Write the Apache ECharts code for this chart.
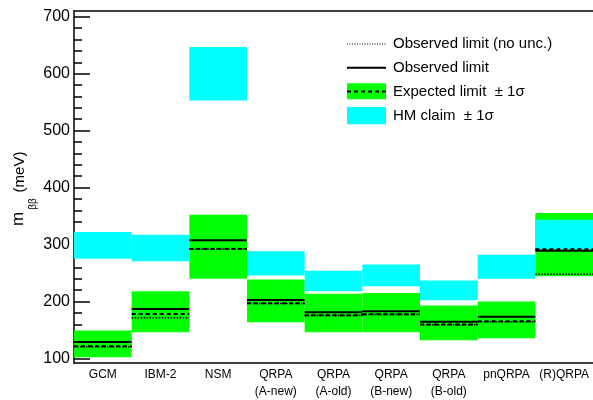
<!DOCTYPE html>
<html>
<head>
<meta charset="utf-8">
<script src="https://cdn.jsdelivr.net/npm/echarts@6/dist/echarts.min.js"></script>
<style>html,body{margin:0;padding:0;background:#fff;overflow:hidden;}#c{width:593px;height:400px;}</style>
</head>
<body>
<div id="c"></div>
<script>
const categories = ['GCM','IBM-2','NSM','QRPA\n(A-new)','QRPA\n(A-old)','QRPA\n(B-new)','QRPA\n(B-old)','pnQRPA','(R)QRPA'];
const hmLow  = [275, 270.5, 553, 245.5, 218, 226.7, 202, 240, 291];
const hmHigh = [322, 317, 647, 288, 254, 264.8, 236.7, 282, 343.6];
const expLow  = [102, 146, 240, 163.6, 146, 146, 132, 135.6, 244.3];
const expHigh = [149, 218, 352.4, 238.5, 213.4, 215, 193, 200, 355.4];
const expected = [121.5, 178, 292.3, 197, 176, 177.7, 159.6, 165.4, 291.5];
const observed = [129, 187, 307.4, 202.5, 181, 183, 164.3, 173, 289];
const observedNoUnc = [120.5, 171.3, 292, 196.5, 175.5, 177, 159, 164.5, 248];
const yMajorTicks = [100, 200, 300, 400, 500, 600, 700];
const yMinorTicks = [120,140,160,180,220,240,260,280,320,340,360,380,420,440,460,480,520,540,560,580,620,640,660,680];
const yMin = 92, yMax = 710;

const FONT = 'Liberation Sans, Arial, Helvetica, sans-serif';

function boxSeries(low, high, color, z) {
  return {
    type: 'custom', z: z, clip: true,
    data: categories.map((_, i) => [i, low[i], high[i]]),
    renderItem: function (params, api) {
      const top = api.coord([api.value(0), api.value(2)]);
      const bot = api.coord([api.value(0), api.value(1)]);
      const w = api.size([1, 0])[0];
      return { type: 'rect', shape: { x: top[0] - w / 2, y: top[1], width: w, height: bot[1] - top[1] },
        style: { fill: color } };
    }
  };
}
function lineSeries(vals, width, dash, z) {
  return {
    type: 'custom', z: z, clip: true,
    data: categories.map((_, i) => [i, vals[i]]),
    renderItem: function (params, api) {
      const p = api.coord([api.value(0), api.value(1)]);
      const w = api.size([1, 0])[0];
      return { type: 'line', shape: { x1: p[0] - w / 2, y1: p[1], x2: p[0] + w / 2, y2: p[1] },
        style: { stroke: '#000', lineWidth: width, lineDash: dash } };
    }
  };
}

const chart = echarts.init(document.getElementById('c'), null, { renderer: 'canvas' });
const lx1 = 347, lx2 = 386, tx = 393;
chart.setOption({
  animation: false,
  backgroundColor: '#fff',
  grid: { left: 74, right: -1, top: 11, bottom: 36, show: false },
  xAxis: [{
    type: 'category', data: categories,
    axisLine: { lineStyle: { color: '#000', width: 1.5 } },
    axisTick: { inside: true, length: 10, lineStyle: { color: '#000', width: 1.5 } },
    axisLabel: { color: '#000', fontSize: 12, fontFamily: FONT, lineHeight: 17, margin: 3, interval: 0 },
    splitLine: { show: false }
  }, {
    type: 'category', data: categories, position: 'top',
    axisLine: { lineStyle: { color: '#000', width: 1.5 } },
    axisTick: { show: false }, axisLabel: { show: false }, splitLine: { show: false }
  }],
  yAxis: [{
    type: 'value', min: yMin, max: yMax, position: 'left',
    axisLine: { show: true, lineStyle: { color: '#000', width: 1.5 } },
    axisTick: { show: true, inside: true, length: 16, customValues: yMajorTicks, lineStyle: { color: '#000', width: 1.5 } },
    axisLabel: { color: '#000', fontSize: 16, fontFamily: FONT, margin: 4, customValues: yMajorTicks },
    splitLine: { show: false }
  }, {
    type: 'value', min: yMin, max: yMax, position: 'left',
    axisLine: { show: false },
    axisTick: { show: true, inside: true, length: 8, customValues: yMinorTicks, lineStyle: { color: '#000', width: 1.5 } },
    axisLabel: { show: false },
    splitLine: { show: false }
  }],
  series: [
    boxSeries(expLow, expHigh, '#00ff00', 1),
    boxSeries(hmLow, hmHigh, '#00ffff', 2),
    lineSeries(observedNoUnc, 1.5, [1.5, 1.5], 3),
    lineSeries(expected, 2, [4, 3], 4),
    lineSeries(observed, 2, null, 5)
  ],
  graphic: [
    { type: 'text', x: 18.5, y: 219, rotation: Math.PI / 2, style: { text: 'm', font: '17px ' + FONT, fill: '#000', align: 'center', verticalAlign: 'middle' } },
    { type: 'text', x: 33.5, y: 204, rotation: Math.PI / 2, style: { text: 'ββ', font: '10px ' + FONT, fill: '#000', align: 'center', verticalAlign: 'middle' } },
    { type: 'text', x: 19.5, y: 172, rotation: Math.PI / 2, style: { text: '(meV)', font: '15px ' + FONT, fill: '#000', align: 'center', verticalAlign: 'middle' } },

    { type: 'line', shape: { x1: lx1, y1: 44, x2: lx2, y2: 44 }, style: { stroke: '#000', lineWidth: 1.2, lineDash: [1, 1.5] } },
    { type: 'text', x: tx, y: 44, style: { text: 'Observed limit (no unc.)', font: '15px ' + FONT, fill: '#000', align: 'left', verticalAlign: 'middle' } },
    { type: 'line', shape: { x1: lx1, y1: 67.7, x2: lx2, y2: 67.7 }, style: { stroke: '#000', lineWidth: 2 } },
    { type: 'text', x: tx, y: 67.7, style: { text: 'Observed limit', font: '15px ' + FONT, fill: '#000', align: 'left', verticalAlign: 'middle' } },
    { type: 'rect', shape: { x: lx1, y: 83.3, width: lx2 - lx1, height: 16 }, style: { fill: '#00ff00' } },
    { type: 'line', shape: { x1: lx1, y1: 91.5, x2: lx2, y2: 91.5 }, style: { stroke: '#000', lineWidth: 2, lineDash: [4, 3] } },
    { type: 'text', x: tx, y: 91.5, style: { text: 'Expected limit  ± 1σ', font: '15px ' + FONT, fill: '#000', align: 'left', verticalAlign: 'middle' } },
    { type: 'rect', shape: { x: lx1, y: 107, width: lx2 - lx1, height: 17.3 }, style: { fill: '#00ffff' } },
    { type: 'text', x: tx, y: 115.5, style: { text: 'HM claim  ± 1σ', font: '15px ' + FONT, fill: '#000', align: 'left', verticalAlign: 'middle' } }
  ]
});
</script>
</body>
</html>
